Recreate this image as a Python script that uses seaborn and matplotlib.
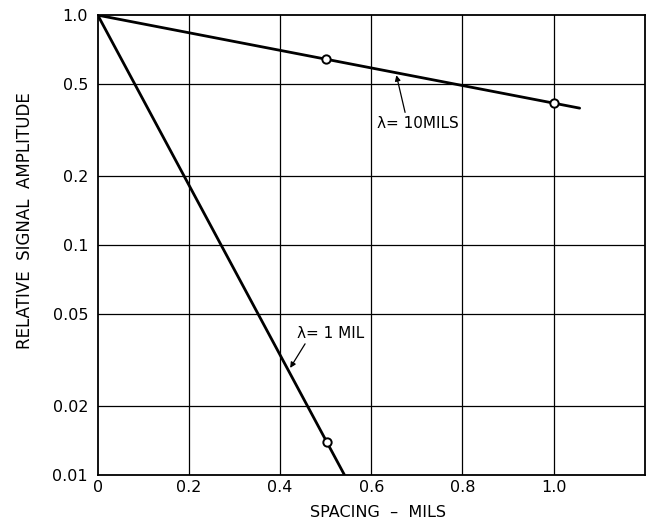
import matplotlib
matplotlib.use("Agg")
import matplotlib.pyplot as plt
import seaborn as sns
import pandas as pd

# Data
x_10mils = [0.0, 1.057]
y_10mils = [1.0, 0.394]
mx_10mils = [0.5, 1.0]
my_10mils = [0.644, 0.414]

x_1mil = [0.0, 0.541]
y_1mil = [1.0, 0.01]
mx_1mil = [0.503]
my_1mil = [0.0139]

x_ticks = [0, 0.2, 0.4, 0.6, 0.8, 1.0]
x_ticklabels = ["0", "0.2", "0.4", "0.6", "0.8", "1.0"]
y_ticks = [0.01, 0.02, 0.05, 0.1, 0.2, 0.5, 1.0]
y_ticklabels = ["0.01", "0.02", "0.05", "0.1", "0.2", "0.5", "1.0"]

sns.set_theme(style="white")
plt.rcParams['font.family'] = ['DejaVu Sans']
plt.rcParams['text.color'] = 'black'

fig = plt.figure(figsize=(6.52, 5.23), dpi=100)
ax = fig.add_axes([0.150, 0.092, 0.839, 0.879])

lines = pd.DataFrame({
    "x": x_10mils + x_1mil,
    "y": y_10mils + y_1mil,
    "s": ["10"] * len(x_10mils) + ["1"] * len(x_1mil),
})
marks = pd.DataFrame({
    "x": mx_10mils + mx_1mil,
    "y": my_10mils + my_1mil,
})

ax.set_yscale("log")
sns.lineplot(data=lines, x="x", y="y", units="s", estimator=None,
             color="black", linewidth=2.0, ax=ax, legend=False)
sns.scatterplot(data=marks, x="x", y="y", marker="o", s=36,
                facecolor="white", edgecolor="black", linewidth=1.4,
                ax=ax, zorder=5, legend=False)

ax.set_xlim(0, 1.2)
ax.set_ylim(0.01, 1.0)
ax.set_xticks(x_ticks)
ax.set_xticklabels(x_ticklabels)
ax.set_yticks(y_ticks)
ax.set_yticklabels(y_ticklabels)
ax.yaxis.set_minor_locator(matplotlib.ticker.NullLocator())
ax.tick_params(axis="both", length=0, labelsize=11.5, colors="black")
ax.tick_params(axis="x", pad=4)
ax.tick_params(axis="y", pad=7)

for xv in x_ticks[1:]:
    ax.axvline(xv, color="black", linewidth=0.9, zorder=1)
for yv in y_ticks[1:-1]:
    ax.axhline(yv, color="black", linewidth=0.9, zorder=1)

for sp in ax.spines.values():
    sp.set_visible(True)
    sp.set_color("black")
    sp.set_linewidth(1.3)

ax.set_xlabel("SPACING  –  MILS", fontsize=11.5, color="black")
ax.set_ylabel("RELATIVE  SIGNAL  AMPLITUDE", fontsize=12, color="black")
ax.xaxis.set_label_coords(0.512, -0.082)
ax.xaxis.label.set_va("center")
ax.yaxis.set_label_coords(-0.133, 0.554)
ax.yaxis.label.set_va("center")

ax.annotate("λ= 10MILS", xy=(0.655, 0.548), xytext=(0.613, 0.339),
            fontsize=11, va="center", ha="left", color="black",
            arrowprops=dict(arrowstyle="-|>", color="black", lw=0.9,
                            shrinkA=0, shrinkB=0, mutation_scale=8,
                            relpos=(0.35, 1.0)))
ax.annotate("λ= 1 MIL", xy=(0.422, 0.0292), xytext=(0.437, 0.0414),
            fontsize=11, va="center", ha="left", color="black",
            arrowprops=dict(arrowstyle="-|>", color="black", lw=0.9,
                            shrinkA=0, shrinkB=0, mutation_scale=8,
                            relpos=(0.15, 0.0)))

fig.savefig("out.png", dpi=100)
